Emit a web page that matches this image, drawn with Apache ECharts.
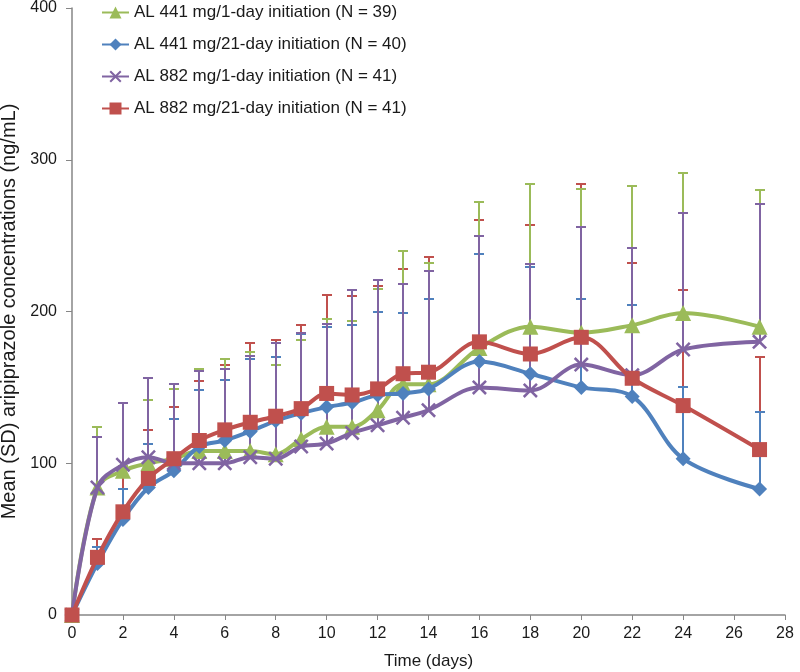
<!DOCTYPE html>
<html>
<head>
<meta charset="utf-8">
<script src="https://cdn.jsdelivr.net/npm/echarts@6/dist/echarts.min.js"></script>
<style>
html,body{margin:0;padding:0;background:#fff;}
#main{width:800px;height:672px;}
</style>
</head>
<body>
<div id="main"></div>
<script>
var days = [0,1,2,3,4,5,6,7,8,9,10,11,12,13,14,16,18,20,22,24,27];
var seriesNames = [
  'AL 441 mg/1-day initiation (N = 39)',
  'AL 441 mg/21-day initiation (N = 40)',
  'AL 882 mg/1-day initiation (N = 41)',
  'AL 882 mg/21-day initiation (N = 41)'
];
var green441d1Mean = [0,84,95,100,103,108,108,108,106,116,124,124,135,152,152,176,190,186,191,199,190];
var green441d1Top  = [0,124,98,142,149,162,169,173,165,181,195,194,215,240,232,272,284,281,283,291,280];
var blue441d21Mean = [0,34,63,84,95,111,115,121,128,133,137,140,145,146,149,167,159,150,144,103,83];
var blue441d21Top  = [0,45,83,113,129,148,155,169,170,185,190,191,200,199,208,238,229,208,204,150,134];
var purple882d1Mean = [0,84,99,104,100,100,100,104,103,111,113,120,125,130,135,150,148,165,158,175,180];
var purple882d1Top  = [0,117,140,156,152,161,162,171,179,186,192,214,221,218,227,250,231,256,242,265,271];
var red882d21Mean = [0,38,68,90,103,115,122,127,131,136,146,145,149,159,160,180,172,183,156,138,109];
var red882d21Top  = [0,50,92,122,137,154,165,179,181,191,211,210,217,228,236,260,257,284,232,214,170];
var xTicks = [0,2,4,6,8,10,12,14,16,18,20,22,24,26,28];
var yTicks = [0,100,200,300,400];

var colors = ['#9BBB59','#4F81BD','#8064A2','#C0504D'];
var means = [green441d1Mean, blue441d21Mean, purple882d1Mean, red882d21Mean];
var tops = [green441d1Top, blue441d21Top, purple882d1Top, red882d21Top];
var symbols = ['triangle','diamond',
  'path://M0,1.2 L1.2,0 L5,3.8 L8.8,0 L10,1.2 L6.2,5 L10,8.8 L8.8,10 L5,6.2 L1.2,10 L0,8.8 L3.8,5 Z',
  'rect'];
var symbolSizes = [16,15,15,15];

function pairs(arr){ return days.map(function(d,i){ return [d, arr[i]]; }); }
function errData(m,t){ return days.map(function(d,i){ return [d, m[i], t[i]]; }); }

function errSeries(idx){
  return {
    type:'custom',
    name: seriesNames[idx] + ' SD',
    silent:true,
    z: 2,
    data: errData(means[idx], tops[idx]),
    encode:{x:0, y:[1,2]},
    renderItem:function(params, api){
      var x = api.value(0);
      var p0 = api.coord([x, api.value(1)]);
      var p1 = api.coord([x, api.value(2)]);
      var px = Math.round(p0[0]);
      var py = Math.round(p1[1]);
      var c = colors[idx];
      return {
        type:'group',
        children:[
          {type:'line', shape:{x1:px,y1:p0[1],x2:px,y2:py}, style:{stroke:c, lineWidth:2}},
          {type:'line', shape:{x1:px-5,y1:py,x2:px+5,y2:py}, style:{stroke:c, lineWidth:2}}
        ]
      };
    }
  };
}

var series = [];
[3,1,0,2].forEach(function(i){ series.push(errSeries(i)); });
[0,1,2,3].forEach(function(i){
  series.push({
    type:'line',
    name: seriesNames[i],
    data: pairs(means[i]),
    smooth: 0.35,
    symbol: symbols[i],
    symbolSize: symbolSizes[i],
    z: 3 + i,
    lineStyle:{color:colors[i], width:4},
    itemStyle:{color:colors[i], borderWidth:0},
    emphasis:{disabled:true}
  });
});

var chart = echarts.init(document.getElementById('main'), null, {renderer:'canvas'});
chart.setOption({
  animation:false,
  backgroundColor:'#ffffff',
  textStyle:{fontFamily:'Liberation Sans, Arial, sans-serif'},
  color: colors,
  grid:{left:72, right:15, top:8, bottom:57, containLabel:false, outerBoundsMode:'none'},
  legend:{
    data: seriesNames,
    orient:'vertical',
    left:96, top:-1,
    itemWidth:27, itemHeight:15, itemGap:15,
    textStyle:{fontSize:17, color:'#1a1a1a', fontFamily:'Liberation Sans, Arial, sans-serif'}
  },
  xAxis:{
    type:'value', min:0, max:28, interval:2,
    name:'Time (days)', nameLocation:'middle', nameGap:38,
    nameTextStyle:{fontSize:17, color:'#1a1a1a'},
    axisLine:{show:true, lineStyle:{color:'#868686', width:1.5}},
    axisTick:{show:true, inside:false, length:5, lineStyle:{color:'#868686'}},
    axisLabel:{fontSize:16, color:'#1a1a1a', margin:11},
    splitLine:{show:false}
  },
  yAxis:{
    type:'value', min:0, max:400, interval:100,
    name:'Mean (SD) aripiprazole concentrations (ng/mL)', nameLocation:'middle', nameGap:50,
    nameTextStyle:{fontSize:20, color:'#1a1a1a'},
    axisLine:{show:true, lineStyle:{color:'#868686', width:1.5}},
    axisTick:{show:true, inside:false, length:6, lineStyle:{color:'#868686'}},
    axisLabel:{fontSize:16, color:'#1a1a1a', margin:15},
    splitLine:{show:false}
  },
  series: series
});
</script>
</body>
</html>
